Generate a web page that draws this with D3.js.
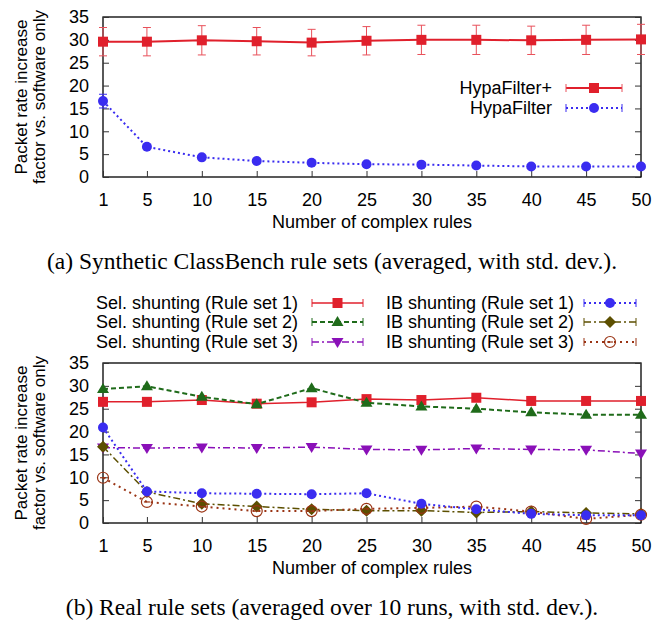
<!DOCTYPE html>
<html>
<head>
<meta charset="utf-8">
<script src="https://cdn.jsdelivr.net/npm/d3@7"></script>
<style>
  body { margin: 0; background: #fff; }
  text { font-family: "Liberation Sans", Arial, sans-serif; }
  .cap { font-family: "Liberation Serif", "Times New Roman", serif; }
</style>
</head>
<body>
<div id="chart"></div>
<script>
// x positions (number of complex rules)
const rules = [1, 5, 10, 15, 20, 25, 30, 35, 40, 45, 50];
const yTicks = [0, 5, 10, 15, 20, 25, 30, 35];

// (a) synthetic rule sets
const hypaPlus = [29.6, 29.6, 29.9, 29.7, 29.4, 29.8, 30.0, 30.0, 29.9, 30.0, 30.1];
const hypaPlusSd = [3.1, 3.1, 3.2, 3.0, 2.9, 3.1, 3.2, 3.2, 3.1, 3.2, 3.3];
const hypa = [16.6, 6.6, 4.3, 3.5, 3.1, 2.8, 2.7, 2.5, 2.3, 2.3, 2.3];
const hypaSd = [1.5, 0, 0, 0, 0, 0, 0, 0, 0, 0, 0];

// (b) real rule sets
const sel1 = [26.5, 26.5, 26.9, 26.1, 26.4, 27.1, 26.9, 27.4, 26.7, 26.7, 26.7];
const sel2 = [29.3, 29.9, 27.6, 26.0, 29.5, 26.3, 25.5, 25.0, 24.2, 23.7, 23.7];
const sel3 = [16.5, 16.4, 16.5, 16.4, 16.6, 16.1, 16.0, 16.3, 16.1, 16.0, 15.2];
const ib1 = [20.9, 6.9, 6.5, 6.4, 6.3, 6.5, 4.2, 3.0, 2.0, 1.7, 1.7];
const ib2 = [16.7, 6.8, 4.2, 3.6, 3.0, 2.7, 2.7, 2.3, 2.5, 2.2, 2.0];
const ib3 = [9.9, 4.6, 3.6, 2.6, 2.6, 3.1, 3.3, 3.6, 2.5, 0.9, 1.8];

const W = 663, H = 628;
const FS = 18;
const svg = d3.select("#chart").append("svg")
  .attr("width", W).attr("height", H);

const x = d3.scaleLinear().domain([1, 50]).range([103, 641]);

// marker drawing
function marker(g, shape, color, cx, cy) {
  if (shape === "square") {
    g.append("rect").attr("x", cx - 5).attr("y", cy - 5)
      .attr("width", 10).attr("height", 10).attr("fill", color);
  } else if (shape === "circle") {
    g.append("circle").attr("cx", cx).attr("cy", cy).attr("r", 5).attr("fill", color);
  } else if (shape === "tri") {
    g.append("path").attr("d", `M${cx},${cy - 6}L${cx + 6},${cy + 4}L${cx - 6},${cy + 4}Z`)
      .attr("fill", color);
  } else if (shape === "trid") {
    g.append("path").attr("d", `M${cx},${cy + 6}L${cx + 6},${cy - 4}L${cx - 6},${cy - 4}Z`)
      .attr("fill", color);
  } else if (shape === "diamond") {
    g.append("path").attr("d", `M${cx},${cy - 6}L${cx + 6},${cy}L${cx},${cy + 6}L${cx - 6},${cy}Z`)
      .attr("fill", color);
  } else if (shape === "ocircle") {
    g.append("circle").attr("cx", cx).attr("cy", cy).attr("r", 5.5)
      .attr("fill", "none").attr("stroke", color).attr("stroke-width", 1.2);
    g.append("line").attr("x1", cx - 3).attr("x2", cx + 3).attr("y1", cy).attr("y2", cy)
      .attr("stroke", color).attr("stroke-width", 1.2);
  }
}

function panel(top, series, caption) {
  const y = d3.scaleLinear().domain([0, 35]).range([top + 160, top]);
  const g = svg.append("g");

  // frame
  g.append("rect").attr("x", 103).attr("y", top).attr("width", 538).attr("height", 160)
    .attr("fill", "none").attr("stroke", "#000").attr("stroke-width", 1.3);

  // axes with inward ticks
  g.append("g").attr("transform", `translate(103,0)`)
    .call(d3.axisLeft(y).tickValues(yTicks).tickSize(-6).tickPadding(14))
    .call(a => a.select(".domain").remove());
  g.append("g").attr("transform", `translate(641,0)`)
    .call(d3.axisRight(y).tickValues(yTicks).tickSize(-6).tickFormat(""))
    .call(a => a.select(".domain").remove());
  g.append("g").attr("transform", `translate(0,${top + 160})`)
    .call(d3.axisBottom(x).tickValues(rules).tickSize(-6).tickPadding(16))
    .call(a => a.select(".domain").remove());
  g.selectAll(".tick text").attr("font-size", FS).attr("fill", "#000")
    .style("font-family", "Liberation Sans, Arial, sans-serif");
  g.selectAll(".tick line").attr("stroke", "#333");

  // y label
  const yl = g.append("text").attr("transform", `translate(27,${top + 80}) rotate(-90)`)
    .attr("text-anchor", "middle").attr("font-size", 17);
  yl.append("tspan").attr("x", 0).attr("y", 0).text("Packet rate increase");
  yl.append("tspan").attr("x", 0).attr("y", 18).text("factor vs. software only");

  g.append("text").attr("x", 372).attr("y", top + 211).attr("text-anchor", "middle")
    .attr("font-size", FS).text("Number of complex rules");

  g.append("text").attr("class", "cap").attr("x", 332).attr("y", top + 252)
    .attr("text-anchor", "middle").attr("font-size", 23.5).text(caption);

  const line = d3.line().x((d, i) => x(rules[i])).y(d => y(d));

  series.forEach(s => {
    const sg = g.append("g");
    if (s.sd) {
      s.values.forEach((v, i) => {
        if (!s.sd[i]) return;
        const cx = x(rules[i]);
        sg.append("line").attr("x1", cx).attr("x2", cx)
          .attr("y1", y(v - s.sd[i])).attr("y2", y(v + s.sd[i]))
          .attr("stroke", s.ecolor || s.color).attr("stroke-width", 1);
        [v - s.sd[i], v + s.sd[i]].forEach(e => {
          sg.append("line").attr("x1", cx - 4).attr("x2", cx + 4)
            .attr("y1", y(e)).attr("y2", y(e))
            .attr("stroke", s.ecolor || s.color).attr("stroke-width", 1);
        });
      });
    }
    sg.append("path").datum(s.values).attr("d", line)
      .attr("fill", "none").attr("stroke", s.color).attr("stroke-width", s.width || 1.5)
      .attr("stroke-dasharray", s.dash || null);
    s.values.forEach((v, i) => marker(sg, s.shape, s.color, x(rules[i]), y(v)));
  });
}

function legendEntry(g, label, s, textEnd, y0, x1, x2) {
  g.append("text").attr("x", textEnd).attr("y", y0 + 6).attr("text-anchor", "end")
    .attr("font-size", FS).text(label);
  g.append("line").attr("x1", x1).attr("x2", x2).attr("y1", y0).attr("y2", y0)
    .attr("stroke", s.color).attr("stroke-width", s.width || 1.5)
    .attr("stroke-dasharray", s.dash || null);
  [x1, x2].forEach(xx => g.append("line").attr("x1", xx).attr("x2", xx)
    .attr("y1", y0 - 4).attr("y2", y0 + 4).attr("stroke", s.ecolor || s.color).attr("stroke-width", 1));
  marker(g, s.shape, s.color, (x1 + x2) / 2, y0);
}

const sHypaPlus = { values: hypaPlus, sd: hypaPlusSd, color: "#e0202c", ecolor: "#e8505a", shape: "square", width: 2 };
const sHypa = { values: hypa, sd: hypaSd, color: "#3a2cf0", shape: "circle", dash: "2,3", width: 2 };

panel(17, [sHypaPlus, sHypa], "(a) Synthetic ClassBench rule sets (averaged, with std. dev.).");

const lg1 = svg.append("g");
legendEntry(lg1, "HypaFilter+", sHypaPlus, 552, 88, 566, 622);
legendEntry(lg1, "HypaFilter", sHypa, 552, 108, 566, 622);

const sSel1 = { values: sel1, color: "#e0202c", shape: "square", width: 1.5 };
const sSel2 = { values: sel2, color: "#1f6b1a", shape: "tri", dash: "5,3", width: 2 };
const sSel3 = { values: sel3, color: "#8a10b8", shape: "trid", dash: "7,3,2,3", width: 1.5 };
const sIb1 = { values: ib1, color: "#3a2cf0", shape: "circle", dash: "2,3", width: 2 };
const sIb2 = { values: ib2, color: "#5c4f00", shape: "diamond", dash: "7,3,2,3", width: 1.5 };
const sIb3 = { values: ib3, color: "#9a3414", shape: "ocircle", dash: "2,4", width: 2 };

panel(363, [sSel1, sSel2, sSel3, sIb2, sIb3, sIb1], "(b) Real rule sets (averaged over 10 runs, with std. dev.).");

const lg2 = svg.append("g");
legendEntry(lg2, "Sel. shunting (Rule set 1)", sSel1, 298, 303, 312, 363);
legendEntry(lg2, "Sel. shunting (Rule set 2)", sSel2, 298, 322, 312, 363);
legendEntry(lg2, "Sel. shunting (Rule set 3)", sSel3, 298, 342, 312, 363);
legendEntry(lg2, "IB shunting (Rule set 1)", sIb1, 574, 303, 584, 636);
legendEntry(lg2, "IB shunting (Rule set 2)", sIb2, 574, 322, 584, 636);
legendEntry(lg2, "IB shunting (Rule set 3)", sIb3, 574, 342, 584, 636);
</script>
</body>
</html>
